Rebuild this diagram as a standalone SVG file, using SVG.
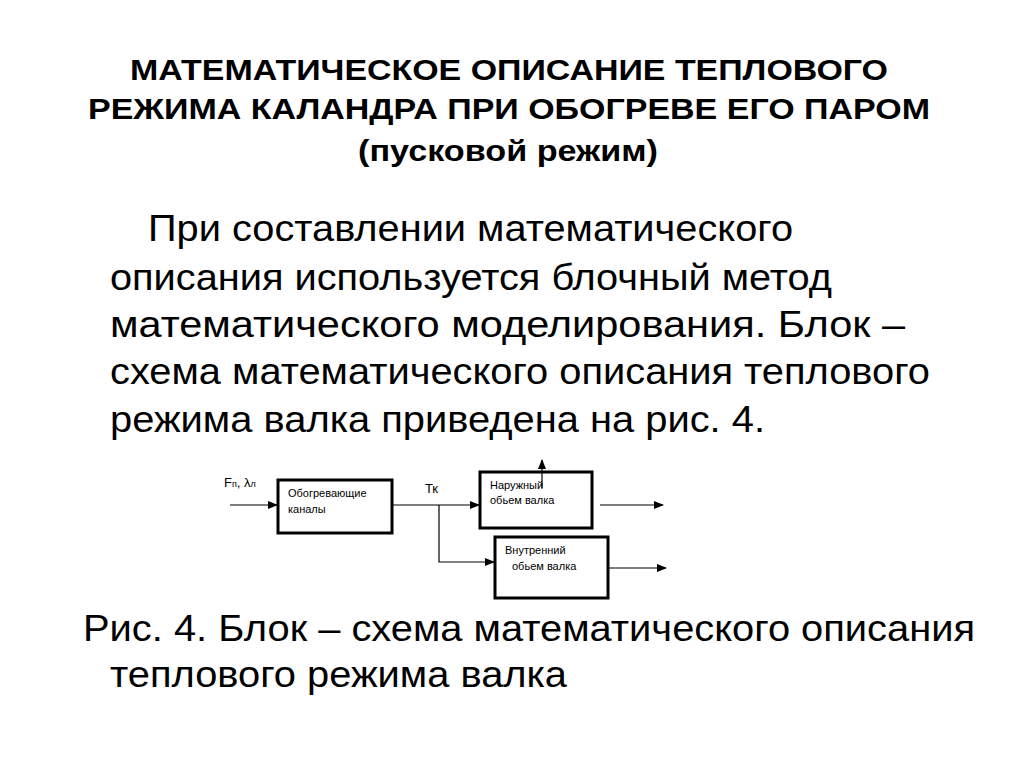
<svg xmlns="http://www.w3.org/2000/svg" width="1024" height="768" viewBox="0 0 1024 768">
<defs><marker id="a" markerWidth="10" markerHeight="8" refX="9" refY="4" orient="auto" markerUnits="userSpaceOnUse"><path d="M0,0 L10,4 L0,8 Z" fill="#000"/></marker>
<style>text{font-family:"Liberation Sans",Arial,sans-serif;fill:#000}.t{font-size:29px;font-weight:bold}.b{font-size:37px}.s{font-size:11px}.box{fill:#fff;stroke:#000;stroke-width:3}.c{stroke:#000;stroke-width:1.2;fill:none}</style></defs>
<rect width="1024" height="768" fill="#fff"/>
<text class="t" x="130" y="80" textLength="758" lengthAdjust="spacingAndGlyphs">МАТЕМАТИЧЕСКОЕ ОПИСАНИЕ ТЕПЛОВОГО</text>
<text class="t" x="88" y="119" textLength="842" lengthAdjust="spacingAndGlyphs">РЕЖИМА КАЛАНДРА ПРИ ОБОГРЕВЕ ЕГО ПАРОМ</text>
<text class="t" x="358" y="161" textLength="300" lengthAdjust="spacingAndGlyphs">(пусковой режим)</text>
<text class="b" x="148" y="241" textLength="645" lengthAdjust="spacingAndGlyphs">При составлении математического</text>
<text class="b" x="110" y="290" textLength="722" lengthAdjust="spacingAndGlyphs">описания используется блочный метод</text>
<text class="b" x="110" y="337" textLength="795" lengthAdjust="spacingAndGlyphs">математического моделирования. Блок –</text>
<text class="b" x="110" y="384" textLength="820" lengthAdjust="spacingAndGlyphs">схема математического описания теплового</text>
<text class="b" x="110" y="432" textLength="655" lengthAdjust="spacingAndGlyphs">режима валка приведена на рис. 4.</text>
<text class="b" x="83" y="641" textLength="892" lengthAdjust="spacingAndGlyphs">Рис. 4. Блок – схема математического описания</text>
<text class="b" x="110" y="687" textLength="457" lengthAdjust="spacingAndGlyphs">теплового режима валка</text>
<g id="n1"><rect class="box" x="278" y="480" width="114" height="53"/><text class="s" x="288" y="497">Обогревающие</text><text class="s" x="288" y="513">каналы</text></g>
<g id="n2"><rect class="box" x="480" y="472" width="112" height="56"/><text class="s" x="490" y="489">Наружный</text><text class="s" x="490" y="504">обьем валка</text></g>
<g id="n3"><rect class="box" x="495" y="537" width="113" height="61"/><text class="s" x="505" y="554">Внутренний</text><text class="s" x="512" y="570">обьем валка</text></g>
<g id="conn">
<line class="c" x1="230" y1="505" x2="277" y2="505" marker-end="url(#a)"/>
<line class="c" x1="392" y1="505" x2="479" y2="505" marker-end="url(#a)"/>
<polyline class="c" points="439,505 439,562 494,562" marker-end="url(#a)"/>
<line class="c" x1="542" y1="488" x2="542" y2="460" marker-end="url(#a)"/>
<line class="c" x1="600" y1="505" x2="663" y2="505" marker-end="url(#a)"/>
<line class="c" x1="608" y1="568" x2="666" y2="568" marker-end="url(#a)"/>
</g>
<text x="224" y="487" font-size="13">F<tspan font-size="9">п</tspan>, λ<tspan font-size="9">л</tspan></text>
<text x="425" y="493" font-size="13">Тк</text>
</svg>
